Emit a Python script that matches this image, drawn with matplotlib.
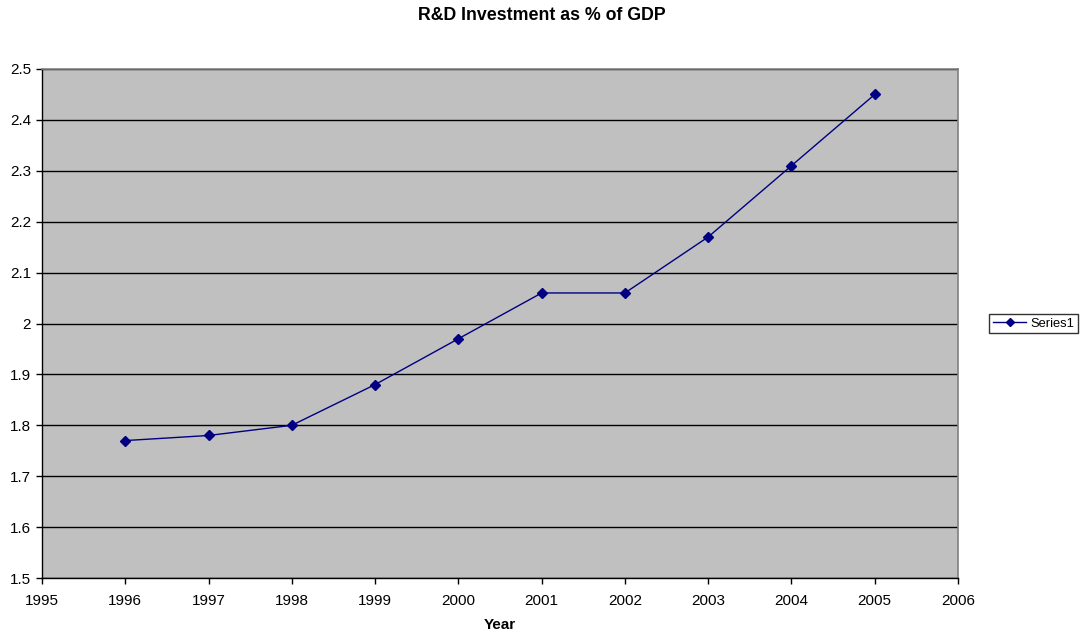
import matplotlib
matplotlib.use("Agg")
import matplotlib.pyplot as plt

years = [1996, 1997, 1998, 1999, 2000, 2001, 2002, 2003, 2004, 2005]
rd_pct_gdp = [1.77, 1.78, 1.80, 1.88, 1.97, 2.06, 2.06, 2.17, 2.31, 2.45]
x_ticks = list(range(1995, 2007))
y_ticks = [1.5, 1.6, 1.7, 1.8, 1.9, 2.0, 2.1, 2.2, 2.3, 2.4, 2.5]
y_tick_labels = ["1.5", "1.6", "1.7", "1.8", "1.9", "2", "2.1", "2.2", "2.3", "2.4", "2.5"]

plt.rcParams["font.family"] = ["Liberation Sans", "DejaVu Sans"]

fig = plt.figure(figsize=(10.83, 6.35), dpi=100)
ax = fig.add_axes([42 / 1083, 57 / 635, 916 / 1083, 509 / 635])
ax.set_facecolor("#c0c0c0")

ax.plot(years, rd_pct_gdp, color="#000080", linewidth=1.0, marker="D",
        markersize=5, markerfacecolor="#000080", markeredgecolor="#000080",
        label="Series1", zorder=3)

ax.set_xlim(1995, 2006)
ax.set_ylim(1.5, 2.5)
ax.set_xticks(x_ticks)
ax.set_xticklabels([str(t) for t in x_ticks], fontsize=11)
ax.set_yticks(y_ticks)
ax.set_yticklabels(y_tick_labels, fontsize=11)
ax.yaxis.grid(True, color="black", linewidth=1.0)
ax.set_axisbelow(True)
ax.tick_params(axis="both", direction="out", length=4, width=1, color="black")
ax.tick_params(axis="x", pad=7.5)
ax.tick_params(axis="y", pad=4)

for side in ("top", "right"):
    ax.spines[side].set_color("#808080")
    ax.spines[side].set_linewidth(1.2)
for side in ("left", "bottom"):
    ax.spines[side].set_color("black")
    ax.spines[side].set_linewidth(1.0)

ax.set_xlabel("Year", fontsize=11, fontweight="bold", labelpad=7.5)
fig.text(0.5, 1 - 16 / 635, "R&D Investment as % of GDP", ha="center", va="center",
         fontsize=12.8, fontweight="bold")

leg = ax.legend(loc="center left", bbox_to_anchor=(989 / 1083, 1 - 323.5 / 635),
                bbox_transform=fig.transFigure, frameon=True, fancybox=False,
                fontsize=9.3, handlelength=2.6, handletextpad=0.3,
                borderpad=0.3, borderaxespad=0, markerscale=0.8)
leg.get_frame().set_edgecolor("black")
leg.get_frame().set_linewidth(1.0)

fig.savefig("out.png", dpi=100)
